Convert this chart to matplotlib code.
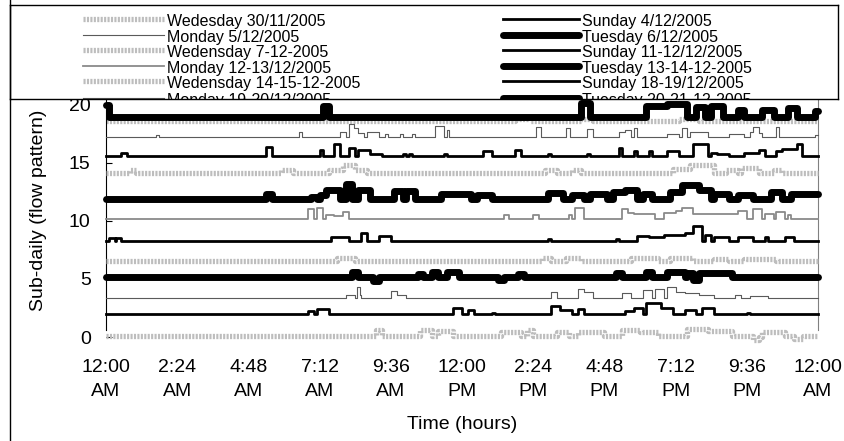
import matplotlib
matplotlib.use("Agg")
import matplotlib.pyplot as plt
from matplotlib.lines import Line2D

plt.rcParams['font.family'] = ['Liberation Sans', 'DejaVu Sans']

# ---- data: baseline of each day + step bumps (start hour, end hour, height) ----
labels = ["Wedesday 30/11/2005", "Sunday 4/12/2005", "Monday 5/12/2005", "Tuesday 6/12/2005",
          "Wedensday 7-12-2005", "Sunday 11-12/12/2005", "Monday 12-13/12/2005", "Tuesday 13-14-12-2005",
          "Wedensday 14-15-12-2005", "Sunday 18-19/12/2005", "Monday 19-20/12/2005", "Tuesday 20-21-12-2005",
          "Wedensday 21-22-12-2005"]
kinds = ["wed", "sun", "mon", "tue", "wed", "sun", "mon2", "tue", "wed", "sun", "mon", "tue", "wed"]
baselines = [0.1, 2.0, 3.35, 5.2, 6.55, 8.3, 10.2, 11.9, 14.1, 15.6, 17.2, 19.0, 18.6]

wed_30_11 = [(9.1, 9.3, 0.5), (10.6, 11.0, 0.5), (11.2, 11.7, 0.4), (13.3, 14.0, 0.3), (14.2, 14.4, 0.5),
             (15.2, 15.6, 0.3), (15.9, 16.8, 0.3), (17.4, 18.0, 0.5), (18.0, 18.6, 0.3), (19.6, 20.3, 0.6),
             (20.3, 21.1, 0.4), (21.8, 22.1, -0.4), (22.0, 22.9, 0.3), (23.2, 23.5, -0.3)]
sun_4_12 = [(6.8, 7.0, 0.2), (7.1, 7.5, 0.4), (11.7, 12.0, 0.5), (12.2, 12.4, 0.3), (13.0, 13.1, 0.1),
            (15.0, 15.3, 0.7), (15.3, 15.7, 0.3), (15.9, 16.1, 0.4), (17.5, 17.8, 0.2), (17.8, 18.1, 0.5),
            (18.2, 18.7, 0.9), (18.7, 19.1, 0.5), (19.5, 19.9, 0.3), (20.1, 20.5, 0.5), (21.6, 21.7, 0.1)]
mon_5_12 = [(8.1, 8.4, 0.3), (8.45, 8.55, 1.0), (8.55, 8.6, 0.3), (9.6, 9.8, 0.6), (9.8, 10.1, 0.3),
            (15.0, 15.2, 0.5), (15.9, 16.1, 0.8), (16.1, 16.4, 0.5), (17.4, 17.7, 0.4), (18.1, 18.4, 0.7),
            (18.5, 18.8, 0.8), (18.9, 19.2, 1.0), (19.2, 19.5, 0.5), (19.5, 20.0, 0.4), (20.0, 20.5, 0.3),
            (21.2, 21.4, 0.3), (21.7, 22.3, 0.15)]
tue_6_12 = [(8.3, 8.5, 0.4), (9.0, 9.2, -0.4), (10.5, 10.7, 0.2), (11.0, 11.2, 0.4), (11.5, 11.9, 0.4),
            (13.2, 13.4, -0.3), (13.9, 14.1, 0.2), (17.2, 17.4, 0.3), (18.2, 18.4, 0.4), (18.9, 19.5, 0.4),
            (19.6, 19.8, 0.3), (19.8, 20.0, -0.3), (20.0, 21.1, 0.35)]
wed_7_12 = [(7.8, 8.4, 0.3), (14.7, 15.0, 0.3), (15.5, 16.0, 0.3), (17.7, 18.6, 0.3), (19.0, 19.8, 0.3),
            (20.5, 21.0, 0.2), (21.5, 22.6, 0.2)]
sun_11_12 = [(0.1, 0.3, 0.2), (0.35, 0.5, 0.25), (7.6, 8.2, 0.3), (8.6, 8.8, 0.7), (9.2, 9.6, 0.4),
             (14.9, 15.0, 0.15), (17.2, 17.3, 0.15), (17.9, 18.3, 0.4), (18.3, 18.8, 0.3), (18.8, 19.5, 0.5),
             (19.5, 19.8, 0.7), (19.8, 20.1, 1.3), (20.2, 20.4, 0.5), (20.5, 21.0, 0.3), (21.3, 21.8, 0.3),
             (22.2, 22.3, 0.3), (22.9, 23.2, 0.3)]
mon_12_13 = [(6.8, 7.0, 0.8), (7.1, 7.3, 0.9), (7.4, 7.7, 0.3), (7.7, 8.0, 0.2), (8.0, 8.2, 0.6),
             (13.4, 13.6, 0.3), (14.4, 14.6, 0.3), (15.6, 15.7, 0.3), (15.8, 16.1, 0.9), (17.4, 17.6, 0.8),
             (17.6, 17.8, 0.5), (17.8, 18.5, 0.4), (18.8, 19.2, 0.5), (19.2, 19.4, 0.7), (19.4, 19.8, 0.9),
             (19.8, 20.4, 0.4), (20.4, 21.3, 0.4), (21.3, 21.6, 0.7), (21.8, 22.1, 0.8), (22.2, 22.5, 0.4),
             (22.6, 22.9, 0.6), (23.0, 23.1, 0.3)]
tue_13_14 = [(5.4, 5.6, 0.4), (6.9, 7.1, 0.2), (7.2, 7.4, 0.3), (7.4, 7.9, 0.8), (8.1, 8.3, 1.3),
             (8.5, 8.9, 0.8), (9.7, 10.0, 0.7), (10.1, 10.4, 0.7), (11.3, 12.3, 0.4), (12.5, 13.0, 0.3),
             (14.9, 15.4, 0.5), (15.7, 16.1, 0.3), (16.3, 16.9, 0.4), (17.1, 17.5, 0.6), (17.5, 17.9, 0.8),
             (18.1, 18.4, 0.4), (19.0, 19.4, 0.6), (19.4, 20.0, 1.2), (20.0, 20.4, 0.8), (20.5, 21.0, 0.4),
             (21.3, 21.8, 0.3), (22.4, 22.8, 0.6), (23.1, 24.0, 0.4)]
wed_14_15 = [(0.8, 1.0, 0.3), (5.9, 6.3, 0.3), (7.5, 8.0, 0.3), (8.0, 8.4, 0.7), (8.4, 8.8, 0.3),
             (14.8, 15.2, 0.3), (15.7, 16.0, 0.3), (19.1, 19.7, 0.4), (19.7, 20.5, 0.7), (20.9, 21.3, 0.3),
             (21.4, 22.0, 0.5), (22.5, 22.8, 0.3)]
sun_18_19 = [(0.5, 0.7, 0.3), (5.4, 5.6, 0.8), (7.2, 7.3, 0.5), (7.7, 7.9, 1.0), (8.2, 8.4, 0.7),
             (8.5, 8.9, 0.5), (8.9, 9.3, 0.2), (10.0, 10.1, 0.2), (10.2, 10.3, 0.2), (11.4, 11.5, 0.2),
             (12.7, 13.0, 0.4), (13.8, 14.0, 0.5), (14.9, 15.0, 0.2), (16.2, 16.3, 0.2), (17.3, 17.4, 0.7),
             (17.8, 17.9, 0.4), (18.3, 18.4, 0.4), (18.9, 19.3, 0.4), (19.8, 20.3, 1.0), (20.4, 20.6, 0.3),
             (20.6, 21.0, 0.2), (21.5, 22.0, 0.3), (22.0, 22.2, 0.5), (22.6, 22.8, 0.4), (22.8, 23.3, 0.6),
             (23.3, 23.45, 1.0)]
mon_19_20 = [(1.7, 1.8, 0.2), (6.5, 6.6, 0.5), (7.9, 8.1, 0.5), (8.2, 8.35, 1.2), (8.35, 8.5, 0.8),
             (8.5, 8.7, 0.4), (8.8, 9.2, 0.5), (9.4, 9.5, 0.3), (9.9, 10.0, 0.3), (10.3, 10.4, 0.3),
             (11.1, 11.4, 1.0), (11.5, 11.55, 0.6), (14.5, 14.65, 0.9), (15.5, 15.65, 0.8), (16.2, 16.4, 0.7),
             (17.3, 17.5, 0.5), (17.5, 17.7, 0.6), (17.8, 17.9, 0.8), (18.9, 19.3, 0.3), (19.4, 19.6, 0.8),
             (19.7, 20.3, 0.5), (21.0, 21.5, 0.3), (21.7, 22.0, 0.5), (21.8, 22.1, 0.4), (22.6, 22.7, 0.9),
             (23.9, 24.0, 0.2)]
tue_20_21 = [(0.0, 0.1, 1.0), (7.3, 7.5, 0.9), (16.0, 16.3, 1.2), (18.2, 18.9, 0.9), (18.9, 19.6, 1.1),
             (19.9, 20.2, 0.8), (20.4, 20.8, 0.9), (21.3, 21.5, 0.6), (22.1, 22.5, 0.6), (23.0, 23.3, 0.7),
             (23.9, 24.0, 0.5)]
wed_21_22 = [(13.8, 14.3, 0.2), (16.0, 16.4, 0.2), (19.3, 20.0, 0.2)]

bumps = [wed_30_11, sun_4_12, mon_5_12, tue_6_12, wed_7_12, sun_11_12, mon_12_13, tue_13_14,
         wed_14_15, sun_18_19, mon_19_20, tue_20_21, wed_21_22]

tick_hours = [0, 2.4, 4.8, 7.2, 9.6, 12, 14.4, 16.8, 19.2, 21.6, 24]
tick_labels = ["12:00\nAM", "2:24\nAM", "4:48\nAM", "7:12\nAM", "9:36\nAM", "12:00\nPM",
               "2:24\nPM", "4:48\nPM", "7:12\nPM", "9:36\nPM", "12:00\nAM"]

styles = {
    "wed": dict(color="#bdbdbd", lw=3.8, linestyle=(0, (0.4, 0.25))),
    "sun": dict(color="black", lw=2.0),
    "mon": dict(color="#5a5a5a", lw=0.8),
    "mon2": dict(color="#8a8a8a", lw=1.3),
    "tue": dict(color="black", lw=5.0, solid_joinstyle="round", solid_capstyle="round"),
}


def step_points(base, bl):
    edges = sorted({0.0, 24.0, *[b[0] for b in bl], *[b[1] for b in bl]})
    vals = [base + sum(h for s, e, h in bl if s <= t < e) for t in edges]
    vals[-1] = vals[-2]
    return edges, vals


fig = plt.figure(figsize=(8.44, 4.41), dpi=100)
W, H = 844, 441
ax = fig.add_axes([106 / W, 1 - 337 / H, 712 / W, 239 / H])

for i, (lab, kind, base, bl) in enumerate(zip(labels, kinds, baselines, bumps)):
    x, y = step_points(base, bl)
    z = 1 if lab.startswith("Wedensday 21") else 2 + i
    ax.plot(x, y, drawstyle="steps-post", clip_on=False, zorder=z, **styles[kind])

ax.set_xlim(0, 24)
ax.set_ylim(0, 20.6)
ax.set_yticks([0, 5, 10, 15, 20])
ax.set_xticks(tick_hours)
ax.set_xticklabels(tick_labels, fontsize=14, linespacing=1.5)
ax.tick_params(axis="x", length=0, pad=16)
ax.tick_params(axis="y", direction="in", length=4, pad=11, labelsize=14)
ax.spines["top"].set_visible(False)
ax.spines["bottom"].set_visible(False)
ax.spines["left"].set_bounds(0.6, 20.6)
ax.spines["right"].set_bounds(0.6, 20.6)
ax.spines["right"].set_color("#808080")
ax.spines["right"].set_linewidth(0.8)
ax.set_xlabel("Time (hours)", fontsize=14)
ax.xaxis.set_label_coords(0.5, -0.33)
ax.set_ylabel("Sub-daily (flow pattern)", fontsize=14)
ax.yaxis.set_label_coords(-0.083, 0.53)

# chart-area left border
fig.add_artist(Line2D([10 / W, 10 / W], [0, 1], color="black", lw=1))

# legend box drawn by hand so the last row is clipped like the original
lax = fig.add_axes([10 / W, 1 - 99 / H, 828 / W, 94 / H])
lax.set_xlim(10, 838)
lax.set_ylim(99, 5)
lax.set_xticks([])
lax.set_yticks([])
for sp in lax.spines.values():
    sp.set_linewidth(1)
row_y = [20.5, 36, 51.5, 67, 82.5, 99.5]
for i, (lab, kind) in enumerate(zip(labels[:12], kinds[:12])):
    r, c = i // 2, i % 2
    y = row_y[r]
    x0, x1 = (83, 164) if c == 0 else (503, 579)
    lax.plot([x0, x1], [y - 1.5, y - 1.5], clip_on=True, **styles[kind])
    lax.text(x1 + 3, y + 5.8, lab, fontsize=11.5, va="baseline", ha="left", clip_on=True)

fig.savefig("out.png", dpi=100)
